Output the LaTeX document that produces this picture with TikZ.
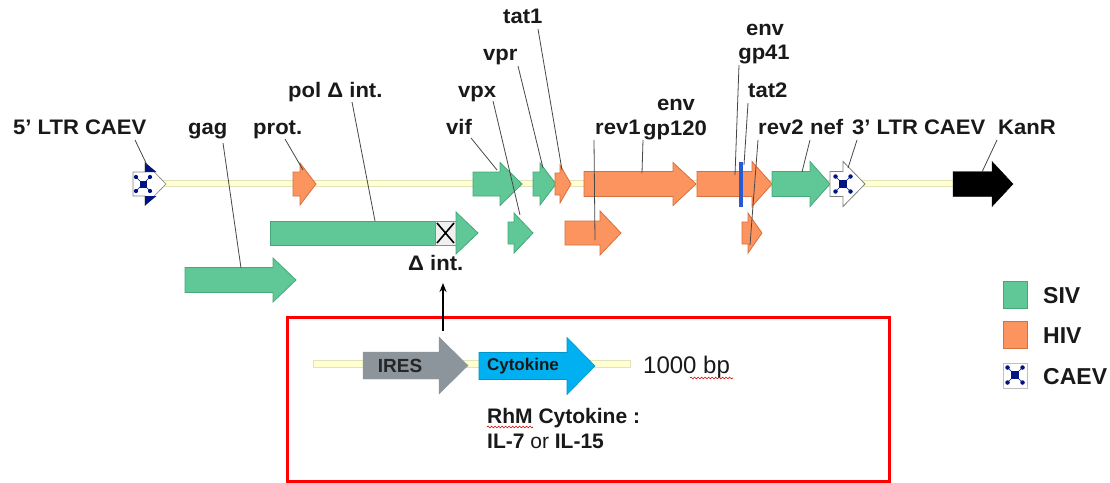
\documentclass[tikz,border=0pt]{standalone}
\usepackage{fontspec}
\setmainfont{Liberation Sans}
\newfontfamily\lblfont{Liberation Sans}[FakeStretch=1.05]
\usetikzlibrary{arrows.meta,decorations.pathmorphing}
\definecolor{siv}{RGB}{96,200,150}
\definecolor{sivd}{RGB}{70,168,120}
\definecolor{hiv}{RGB}{252,148,96}
\definecolor{hivd}{RGB}{215,112,62}
\definecolor{navy}{RGB}{0,20,130}
\definecolor{bbone}{RGB}{255,255,208}
\definecolor{bboned}{RGB}{226,226,188}
\definecolor{iresg}{RGB}{140,148,156}
\definecolor{cyto}{RGB}{0,176,240}
\definecolor{txt}{RGB}{25,25,25}
\definecolor{bluebar}{RGB}{40,90,210}
\newcommand\genearrow[7]{\draw[#1] ({#2},{#5-#6}) -- ({#3},{#5-#6}) -- ({#3},{#5-#7}) -- ({#4},{#5}) -- ({#3},{#5+#7}) -- ({#3},{#5+#6}) -- ({#2},{#5+#6}) -- cycle;}
\newcommand\caevmotif[3]{%
  \draw[navy,line width=0.6] ({#1-#3},{#2-#3}) -- ({#1+#3},{#2+#3}) ({#1-#3},{#2+#3}) -- ({#1+#3},{#2-#3});
  \fill[navy] ({#1-0.5*#3},{#2-0.5*#3}) rectangle ({#1+0.5*#3},{#2+0.5*#3});
  \foreach \dx/\dy in {-1/-1,1/-1,-1/1,1/1} \fill[navy] ({#1+\dx*#3},{#2+\dy*#3}) circle[radius={0.3*#3}];
}
\tikzset{
  siva/.style={fill=siv,draw=sivd,line width=0.8pt},
  hiva/.style={fill=hiv,draw=hivd,line width=0.8pt},
  lbl/.style={font=\lblfont\fontsize{21}{24}\selectfont\bfseries,text=txt,inner sep=0pt,anchor=base west},
  leader/.style={draw=black!72,line width=0.8pt},
  leg/.style={font=\fontsize{23}{26}\selectfont\bfseries,text=txt,inner sep=0pt,anchor=base west},
  squig/.style={draw=red!85!black,line width=0.6pt,decorate,decoration={snake,amplitude=0.9pt,segment length=3.5pt}},
}
\begin{document}
\begin{tikzpicture}[x=1pt,y=-1pt]
\useasboundingbox (0,0) rectangle (1110,482);
\fill[white] (0,0) rectangle (1110,482);
% backbone
\draw[fill=bbone,draw=bboned,line width=0.6pt] (150,180.5) rectangle (955,186.5);
% 5' LTR
\genearrow{fill=white,draw=black!50,line width=0.6pt}{133}{145}{166}{184}{12}{21.5}
\fill[navy] (145,162.5) -- (156.5,172) -- (145,172) -- cycle;
\fill[navy] (145,205.5) -- (156.5,196) -- (145,196) -- cycle;
\caevmotif{143}{184}{7}
% main row
\genearrow{hiva}{293}{300}{316}{184}{12}{21}
\genearrow{siva}{473}{500}{522}{184}{12}{21.5}
\genearrow{siva}{533}{540}{556}{184}{12}{21}
\genearrow{hiva}{555}{560}{571}{184}{11}{19}
\genearrow{hiva}{584}{673}{696}{184}{12.5}{21.5}
\genearrow{hiva}{697}{752}{772}{184}{12.5}{22.5}
\draw[bluebar,line width=4pt] (741,162) -- (741,207);
\genearrow{siva}{772}{810}{830}{184}{12.5}{22.5}
\genearrow{fill=white,draw=black!50,line width=0.8pt}{830}{843}{865}{184}{12.5}{22.5}
\caevmotif{843}{184}{7.5}
\genearrow{fill=black,draw=black}{953}{992}{1013}{184}{12.5}{22.5}
% second row
\draw[siva] (270,221) rectangle (435,245);
\draw[fill=black!6,draw=black!45,line width=0.6pt] (435,221) rectangle (456,245);
\draw[black,line width=1.6pt] (437,223) -- (454,243) (437,243) -- (454,223);
\draw[siva] (456,212) -- (478,233) -- (456,254) -- cycle;
\genearrow{siva}{508}{514}{533}{233}{11}{20}
\genearrow{hiva}{565}{600}{621}{233}{12}{22}
\genearrow{hiva}{742}{748}{762}{233}{11}{20}
% third row
\genearrow{siva}{185}{273}{296}{280}{12.5}{22}
% labels
\node[lbl] (l5ltr) at (13,134) {5’ LTR CAEV};
\node[lbl] (lgag) at (188,134) {gag};
\node[lbl] (lprot) at (253,134) {prot.};
\node[lbl] (lpol) at (288,97) {pol Δ int.};
\node[lbl] (lvif) at (446,134) {vif};
\node[lbl] (lvpx) at (458,97) {vpx};
\node[lbl] (lvpr) at (483,60) {vpr};
\node[lbl] (ltat1) at (503,23) {tat1};
\node[lbl] (lrev1) at (595,134) {rev1};
\node[lbl,anchor=base] (lenvA) at (676,110) {env};
\node[lbl,anchor=base] (lgp120) at (675,135) {gp120};
\node[lbl,anchor=base] (lenvB) at (765,35) {env};
\node[lbl,anchor=base] (lgp41) at (764,59) {gp41};
\node[lbl] (ltat2) at (748,97) {tat2};
\node[lbl] (lrev2) at (758,134) {rev2};
\node[lbl] (lnef) at (810,134) {nef};
\node[lbl] (l3ltr) at (852,134) {3’ LTR CAEV};
\node[lbl] (lkan) at (998,134) {KanR};
\node[lbl] (ldint) at (408,270) {Δ int.};
% leader endpoints
\coordinate (a1) at (135,140); \coordinate (b1) at (147,165);
\coordinate (a2) at (223,143); \coordinate (b2) at (241,268);
\coordinate (a3) at (285,139); \coordinate (b3) at (303,170);
\coordinate (a4) at (352,102); \coordinate (b4) at (375,221);
\coordinate (a5) at (471,138); \coordinate (b5) at (497,170);
\coordinate (a6) at (493,101); \coordinate (b6) at (520,215);
\coordinate (a7) at (518,66); \coordinate (b7) at (543,168);
\coordinate (a8) at (538,29); \coordinate (b8) at (562,170);
\coordinate (a9) at (594,140); \coordinate (b9) at (595,240);
\coordinate (a10) at (643,140); \coordinate (b10) at (642,173);
\coordinate (a11) at (739,65); \coordinate (b11) at (735,175);
\coordinate (a12) at (748,103); \coordinate (b12) at (744,165);
\coordinate (a13) at (758,140); \coordinate (b13) at (750,245);
\coordinate (a14) at (810,140); \coordinate (b14) at (802,172);
\coordinate (a15) at (857,140); \coordinate (b15) at (848,168);
\coordinate (a16) at (997,140); \coordinate (b16) at (982,172);
\foreach \i in {1,...,16} \draw[leader] (a\i) -- (b\i);
% red box
\draw[red,line width=3pt] (287,317) rectangle (889,481);
\coordinate (boxarrow) at (443,331);
\draw[black,line width=1.6pt,-{Stealth[length=9pt,width=7pt]}] (boxarrow) -- (443,283);
% insert
\draw[fill=bbone,draw=bboned,line width=0.6pt] (313,360.5) rectangle (630,367);
\genearrow{fill=iresg,draw=iresg}{363}{439}{468}{365.5}{13.5}{28.5}
\genearrow{fill=cyto,draw=cyto!85!black,line width=0.6pt}{479}{567}{595}{366}{13.5}{28.5}
\node[font=\fontsize{19}{22}\selectfont\bfseries,text=black!85,inner sep=0pt] (ires) at (400,366) {IRES};
\node[font=\fontsize{17}{20}\selectfont\bfseries,text=black!90,inner sep=0pt] (cyt) at (523,366) {Cytokine};
\node[font=\fontsize{24}{28}\selectfont,text=txt,inner sep=0pt,anchor=base west] (bp) at (643,373) {1000 bp};
\node[font=\fontsize{21}{24}\selectfont\bfseries,text=txt,inner sep=0pt,anchor=base west] (rhm) at (487,423) {RhM Cytokine :};
\node[font=\fontsize{21}{24}\selectfont,text=txt,inner sep=0pt,anchor=base west] (il) at (487,448) {\textbf{IL-7} or \textbf{IL-15}};
\coordinate (sq1a) at (690,378); \coordinate (sq1b) at (733,378);
\coordinate (sq2a) at (487,427); \coordinate (sq2b) at (533,427);
\draw[squig] (sq1a) -- (sq1b);
\draw[squig] (sq2a) -- (sq2b);
% legend
\draw[fill=siv,draw=sivd,line width=0.8pt] (1003,281) rectangle (1027,308);
\draw[fill=hiv,draw=hivd,line width=0.8pt] (1003,321) rectangle (1027,348);
\draw[fill=white,draw=black!25,line width=0.6pt] (1003,363) rectangle (1027,388);
\caevmotif{1015}{375}{7.5}
\node[leg] (lsiv) at (1043,303) {SIV};
\node[leg] (lhiv) at (1043,343) {HIV};
\node[leg] (lcaev) at (1043,384) {CAEV};
\end{tikzpicture}
\end{document}
